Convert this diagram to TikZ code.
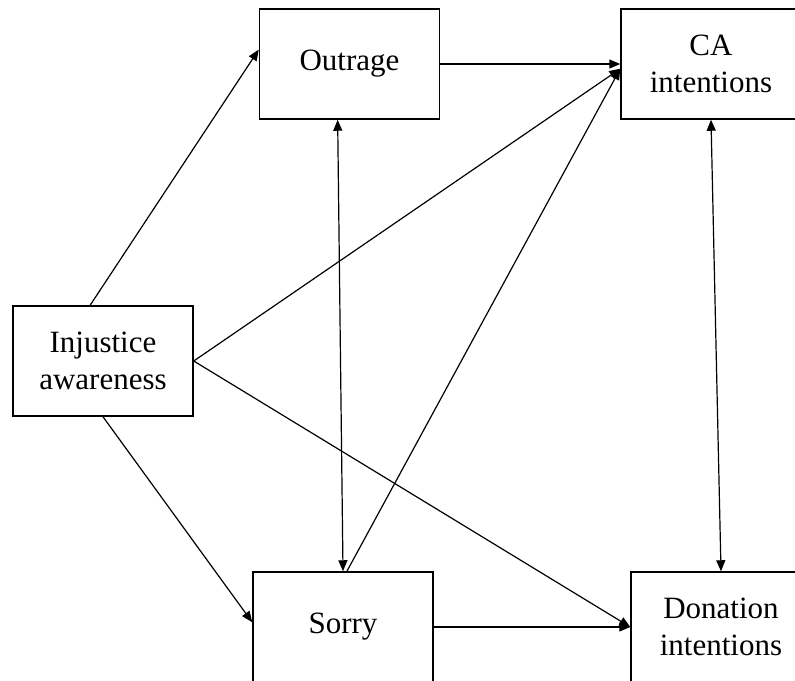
\documentclass[tikz,border=0pt]{standalone}
\usepackage{fontspec}
\setmainfont{Liberation Serif}
\usetikzlibrary{positioning,arrows.meta}

\begin{document}
\begin{tikzpicture}[
    x=0.5pt,
    y=-0.5pt,
    box/.style={
        rectangle,
        draw,
        line width=0.75pt,
        minimum width=90pt,
        minimum height=55pt,
        inner sep=0pt,
        align=center,
        font=\fontsize{15.5}{18.5}\selectfont
      },
    arrow/.style={-{Triangle[length=5.5pt,width=4.5pt]},line width=0.6pt},
    biarrow/.style={{Triangle[length=5.5pt,width=4.5pt]}-{Triangle[length=5.5pt,width=4.5pt]},line width=0.6pt}
    ]

    \clip (0,0) rectangle (795,680);
    \fill[white] (0,0) rectangle (795,680);

    \node[box] (injustice) at (103,361) {Injustice\\awareness};
    \node[box] (outrage) at (349.5,64) {Outrage};
    \node[box] (ca) at (711,64) {CA\\intentions};
    \node[box] (sorry) at (343,627) {Sorry};
    \node[box] (donation) at (721,627) {Donation\\intentions};

    \draw[arrow] (injustice.103)--(outrage.171);
    \draw[arrow] (outrage.east)--(ca.west);
    \draw[arrow] (injustice.east)--(ca.183);
    \draw[arrow] (sorry.86)--(ca.183);
    \draw[biarrow] (outrage.258)--(sorry.north);
    \draw[biarrow] (ca.south)--(donation.north);
    \draw[arrow] (injustice.south)--(sorry.177);
    \draw[arrow] (injustice.east)--(donation.west);
    \draw[arrow] (sorry.east)--(donation.west);

  \end{tikzpicture}
\end{document}
